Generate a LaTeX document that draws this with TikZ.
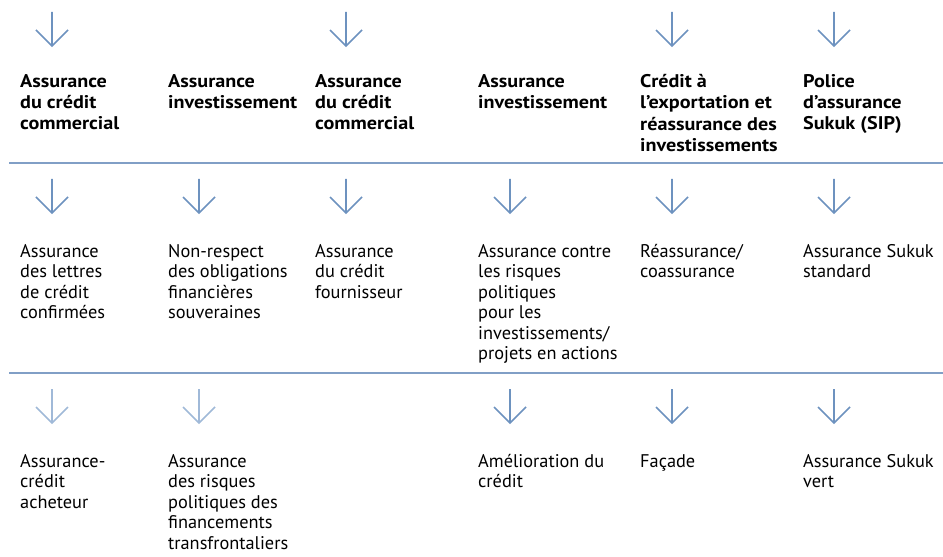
\documentclass[tikz,border=0pt]{standalone}
\usepackage{fontspec}
\setmainfont{PT Sans}
\newfontfamily\policetitre{PT Sans}[FakeStretch=1.1]
\definecolor{bleu}{HTML}{6D92BF}
\definecolor{bleuclair}{HTML}{A0B9D8}
\definecolor{filetbleu}{HTML}{819FC6}
\begin{document}
\begin{tikzpicture}[x=1bp,y=-1bp,
  titre/.style={anchor=base west,inner sep=0pt,align=left,
    font=\policetitre\fontsize{18.4}{21.5}\selectfont\bfseries},
  texte/.style={anchor=base west,inner sep=0pt,align=left,
    font=\fontsize{18.4}{20.6}\selectfont},
  fleche/.style={draw=bleu,line width=1.7bp},
  flecheclaire/.style={draw=bleuclair,line width=1.7bp},
  filet/.style={draw=filetbleu,line width=1.3bp}]

\useasboundingbox (0,0) rectangle (943,557);

\newcommand\Fleche[3]{\draw[#3] (#1,#2) -- (#1,#2+34) (#1-16,#2+18) -- (#1,#2+34) -- (#1+16,#2+18);}

% haut des fleches
\newcommand\RA{12}
\newcommand\RB{179}
\newcommand\RC{389}
% interlignes
\newcommand\LT{21.5}
\newcommand\LB{20.6}

%% premiere ligne
\Fleche{52}{\RA}{fleche}
\Fleche{346}{\RA}{fleche}
\Fleche{672}{\RA}{fleche}
\Fleche{834}{\RA}{fleche}

\node[titre] (tA) at (20,87+2*\LT) {Assurance\\du crédit\\commercial};
\node[titre] (tB) at (168,87+\LT) {Assurance\\investissement};
\node[titre] (tC) at (315,87+2*\LT) {Assurance\\du crédit\\commercial};
\node[titre] (tD) at (478,87+\LT) {Assurance\\investissement};
\node[titre] (tE) at (640,87+3*\LT) {Crédit à\\l’exportation et\\réassurance des\\investissements};
\node[titre] (tF) at (803,87+2*\LT) {Police\\d’assurance\\Sukuk (SIP)};

\draw[filet] (9,163) -- (155,163);
\draw[filet] (155,163) -- (292,163);
\draw[filet] (292,163) -- (465,163);
\draw[filet] (465,163) -- (617,163);
\draw[filet] (617,163) -- (790,163);
\draw[filet] (790,163) -- (943,163);

%% deuxieme ligne
\Fleche{52}{\RB}{fleche}
\Fleche{199}{\RB}{fleche}
\Fleche{346}{\RB}{fleche}
\Fleche{510}{\RB}{fleche}
\Fleche{672}{\RB}{fleche}
\Fleche{834}{\RB}{fleche}

\node[texte] (bA) at (20,257+3*\LB) {Assurance\\des lettres\\de crédit\\confirmées};
\node[texte] (bB) at (168,257+3*\LB) {Non-respect\\des obligations\\financières\\souveraines};
\node[texte] (bC) at (315,257+2*\LB) {Assurance\\du crédit\\fournisseur};
\node[texte] (bD) at (478,257+5*\LB) {Assurance contre\\les risques\\politiques\\pour les\\investissements/\\projets en actions};
\node[texte] (bE) at (640,257+\LB) {Réassurance/\\coassurance};
\node[texte] (bF) at (803,257+\LB) {Assurance Sukuk\\standard};

\draw[filet] (9,373) -- (155,373);
\draw[filet] (155,373) -- (292,373);
\draw[filet] (292,373) -- (465,373);
\draw[filet] (465,373) -- (617,373);
\draw[filet] (617,373) -- (790,373);
\draw[filet] (790,373) -- (943,373);

%% troisieme ligne
\Fleche{52}{\RC}{flecheclaire}
\Fleche{199}{\RC}{flecheclaire}
\Fleche{510}{\RC}{fleche}
\Fleche{672}{\RC}{fleche}
\Fleche{834}{\RC}{fleche}

\node[texte] (cA) at (20,467+2*\LB) {Assurance-\\crédit\\acheteur};
\node[texte] (cB) at (168,467+4*\LB) {Assurance\\des risques\\politiques des\\financements\\transfrontaliers};
\node[texte] (cD) at (478,467+\LB) {Amélioration du\\crédit};
\node[texte] (cE) at (640,467) {Façade};
\node[texte] (cF) at (803,467+\LB) {Assurance Sukuk\\vert};

\end{tikzpicture}
\end{document}
